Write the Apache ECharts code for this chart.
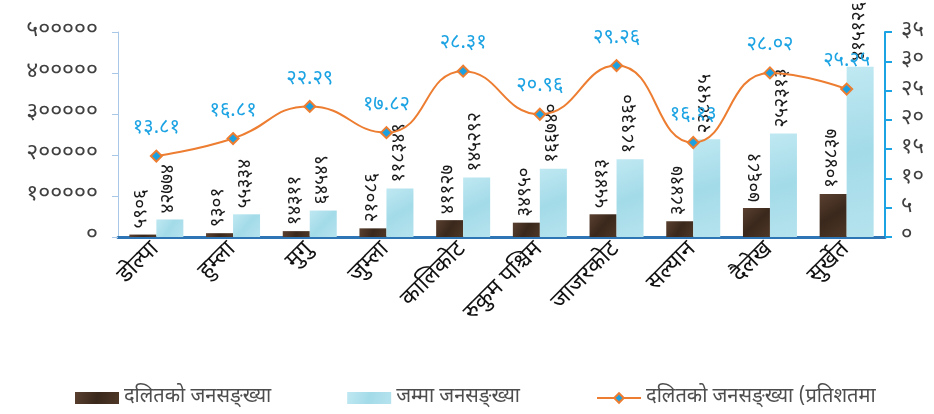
<!DOCTYPE html>
<html>
<head>
<meta charset="utf-8">
<script src="https://cdn.jsdelivr.net/npm/echarts@6/dist/echarts.min.js"></script>
<style>html,body{margin:0;padding:0;background:#fff;}#c{width:934px;height:414px;}</style>
</head>
<body>
<div id="c"></div>
<script>
const categories = ['डोल्पा','हुम्ला','मुगु','जुम्ला','कालिकोट','रुकुम पश्चिम','जाजरकोट','सल्यान','दैलेख','सुर्खेत'];
const dalitPop = [5906, 9301, 14311, 21086, 41127, 34950, 55413, 38417, 70681, 104837];
const totalPop = [42774, 55334, 64549, 118349, 145292, 166740, 189360, 238515, 252313, 415126];
const dalitPct = [13.81, 16.81, 22.29, 17.82, 28.31, 20.96, 29.26, 16.13, 28.02, 25.25];
const leftTicks = [0, 100000, 200000, 300000, 400000, 500000];
const rightTicks = [0, 5, 10, 15, 20, 25, 30, 35];
const seriesNames = ['दलितको जनसङ्ख्या', 'जम्मा जनसङ्ख्या', 'दलितको जनसङ्ख्या (प्रतिशतमा'];

const DEV = '०१२३४५६७८९';
function toDev(s){ return String(s).replace(/[0-9]/g, d => DEV[+d]); }
const FONT = "'Noto Sans Devanagari','Noto Sans','Lohit Devanagari',sans-serif";

const chart = echarts.init(document.getElementById('c'), null, {renderer:'canvas'});
chart.setOption({
  backgroundColor:'#ffffff',
  animation:false,
  textStyle:{fontFamily:FONT},
  grid:{left:118, right:49, top:32, bottom:177},
  legend:{
    bottom:1, left:70, itemGap:76, itemWidth:44, itemHeight:12,
    textStyle:{fontSize:20, color:'#4d4d4d', fontFamily:FONT},
    data:[
      {name:seriesNames[0], icon:'rect'},
      {name:seriesNames[1], icon:'rect'},
      {name:seriesNames[2]}
    ]
  },
  xAxis:{
    type:'category', data:categories,
    axisLine:{lineStyle:{color:'#2e75b6', width:3}},
    axisTick:{show:false},
    axisLabel:{rotate:45, fontSize:23, color:'#111111', margin:10, interval:0, fontFamily:FONT}
  },
  yAxis:[
    {type:'value', min:leftTicks[0], max:leftTicks[leftTicks.length-1], interval:100000,
     axisLine:{show:true, lineStyle:{color:'#a9c8e8', width:1}},
     axisTick:{show:true, length:6, lineStyle:{color:'#a9c8e8'}},
     splitLine:{show:false},
     axisLabel:{fontSize:23, color:'#404040', margin:20, formatter:v=>toDev(v), fontFamily:FONT}},
    {type:'value', min:rightTicks[0], max:rightTicks[rightTicks.length-1], interval:5, position:'right',
     axisLine:{show:true, lineStyle:{color:'#1ca3e3', width:2}},
     axisTick:{show:true, length:7, lineStyle:{color:'#1ca3e3', width:2}},
     splitLine:{show:false},
     axisLabel:{fontSize:22, color:'#404040', margin:16, formatter:v=>toDev(v), fontFamily:FONT}}
  ],
  series:[
    {name:seriesNames[0], type:'bar', data:dalitPop, barWidth:27, barGap:'0%',
     itemStyle:{color:new echarts.graphic.LinearGradient(0,0,1,1,[{offset:0,color:'#5a4030'},{offset:0.5,color:'#3a281c'},{offset:1,color:'#4e3726'}])},
     label:{show:true, position:'top', rotate:90, align:'left', verticalAlign:'middle', distance:6,
            fontSize:19, color:'#1a1a1a', fontFamily:FONT, formatter:p=>toDev(p.value)}},
    {name:seriesNames[1], type:'bar', data:totalPop, barWidth:27,
     itemStyle:{color:new echarts.graphic.LinearGradient(0,0,1,1,[{offset:0,color:'#bfe8f2'},{offset:0.5,color:'#a3dbe8'},{offset:1,color:'#b5e3ee'}])},
     label:{show:true, position:'top', rotate:90, align:'left', verticalAlign:'middle', distance:6,
            fontSize:19, color:'#1a1a1a', fontFamily:FONT, formatter:p=>toDev(p.value)}},
    {name:seriesNames[2], type:'line', yAxisIndex:1, data:dalitPct, smooth:true,
     symbol:'diamond', symbolSize:11,
     lineStyle:{color:'#ed7d31', width:2},
     itemStyle:{color:'#1ba1e2', borderColor:'#ed7d31', borderWidth:2},
     label:{show:true, position:'top', distance:10, fontSize:20, color:'#1ca3e3', fontFamily:FONT,
            formatter:p=>toDev(p.value.toFixed(2))},
     z:5}
  ]
});
</script>
</body>
</html>
